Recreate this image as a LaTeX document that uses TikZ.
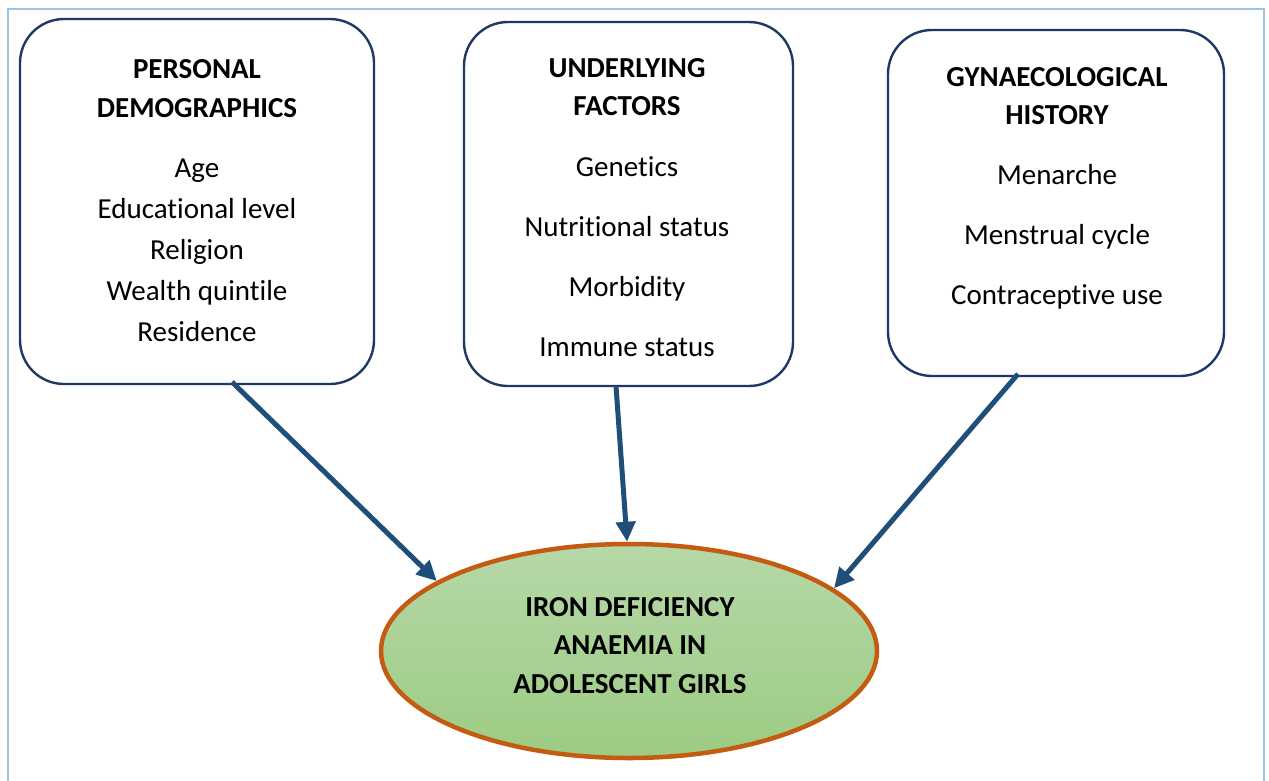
\documentclass[tikz,border=0pt]{standalone}
\usepackage{fontspec}
\setmainfont[Ligatures=NoCommon]{Carlito}
\usetikzlibrary{shapes.geometric,arrows.meta}
\definecolor{frameblue}{HTML}{9DC3E6}
\definecolor{boxnavy}{HTML}{1F3864}
\definecolor{arrowblue}{HTML}{1F4E79}
\definecolor{ellorange}{HTML}{C55A11}
\definecolor{greentop}{HTML}{B6D8A8}
\definecolor{greenbot}{HTML}{9CCB82}
\tikzset{
  factorbox/.style={draw=boxnavy, line width=2.4pt, rounded corners=44pt, fill=white},
  ttl/.style={anchor=base, font=\fontsize{29}{34}\selectfont\bfseries, inner sep=0pt},
  itm/.style={anchor=base, font=\fontsize{29}{34}\selectfont, inner sep=0pt},
  arr/.style={draw=arrowblue, line width=5pt, -{Triangle[length=20pt,width=19pt]}},
  outcome/.style={ellipse, draw=ellorange, line width=4.5pt, top color=greentop, bottom color=greenbot, inner sep=0pt, minimum width=496pt, minimum height=214pt}
}
\begin{document}
\begin{tikzpicture}[x=1pt,y=-1pt]
\useasboundingbox (0,0) rectangle (1269,780);
\draw[frameblue, line width=2pt] (8,790) -- (8,9) -- (1264,9) -- (1264,790);
% boxes
\draw[factorbox] (20,19) rectangle (374,384);
\node[inner sep=0pt, minimum size=0pt] (b1) at (197,201.5) {};
\draw[factorbox] (464,22) rectangle (793,386);
\node[inner sep=0pt, minimum size=0pt] (b2) at (628.5,204) {};
\draw[factorbox] (888,30) rectangle (1224,376);
\node[inner sep=0pt, minimum size=0pt] (b3) at (1056,203) {};
\coordinate (s1) at (232,382);
\coordinate (s2) at (616,386);
\coordinate (s3) at (1018,374);
% box 1 text
\node[ttl] (t11) at (197,78) {PERSONAL};
\node[ttl] (t12) at (197,117) {DEMOGRAPHICS};
\node[itm] (t13) at (197,177) {Age};
\node[itm] (t14) at (197,218) {Educational level};
\node[itm] (t15) at (197,259) {Religion};
\node[itm] (t16) at (197,300) {Wealth quintile};
\node[itm] (t17) at (197,341) {Residence};
% box 2 text
\node[ttl] (t21) at (627,77) {UNDERLYING};
\node[ttl] (t22) at (627,115) {FACTORS};
\node[itm] (t23) at (627,176) {Genetics};
\node[itm] (t24) at (627,236) {Nutritional status};
\node[itm] (t25) at (627,296) {Morbidity};
\node[itm] (t26) at (627,356) {Immune status};
% box 3 text
\node[ttl] (t31) at (1057,86) {GYNAECOLOGICAL};
\node[ttl] (t32) at (1057,124) {HISTORY};
\node[itm] (t33) at (1057,184) {Menarche};
\node[itm] (t34) at (1057,244) {Menstrual cycle};
\node[itm] (t35) at (1057,304) {Contraceptive use};
% outcome
\node[outcome] (e) at (629,651) {};
\node[ttl] (e1) at (630,616) {IRON DEFICIENCY};
\node[ttl] (e2) at (630,654) {ANAEMIA IN};
\node[ttl] (e3) at (630,693) {ADOLESCENT GIRLS};
% arrows
\draw[arr] (s1) -- (e.160);
\draw[arr] (s2) -- (e.91.5);
\draw[arr] (s3) -- (e.17);
\end{tikzpicture}
\end{document}
